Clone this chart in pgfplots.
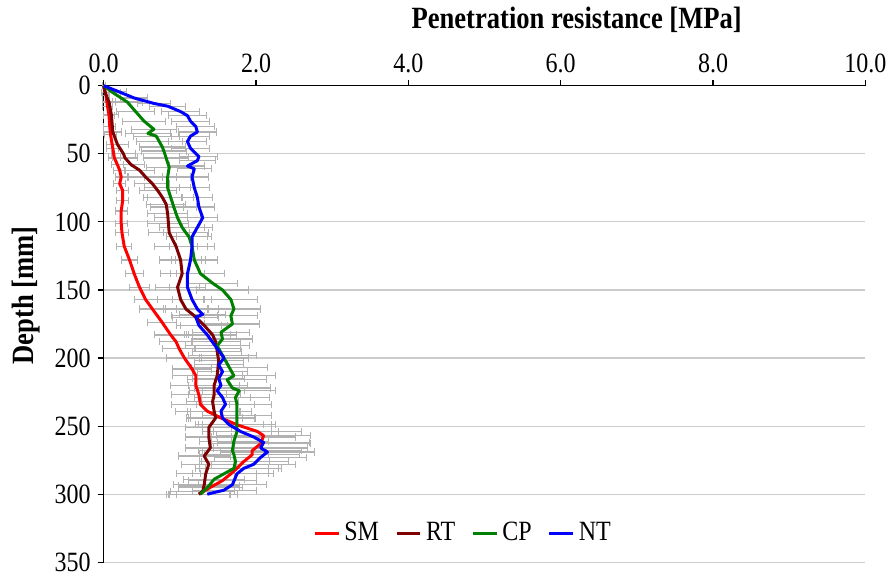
\documentclass[border=0pt]{standalone}
\usepackage{pgfplots}
\pgfplotsset{compat=1.18}
\usepackage{pgfplotstable}
\usepackage{fontspec}
\setmainfont{Liberation Serif}[FakeStretch=0.86]

\definecolor{cSM}{HTML}{FF0000}
\definecolor{cRT}{HTML}{7F0000}
\definecolor{cCP}{HTML}{008000}
\definecolor{cNT}{HTML}{0000FF}
\definecolor{errgray}{HTML}{B2B2B2}

% depth [mm], resistance [MPa], error [MPa]
\pgfplotstableread{
d x e
0 0.00 0.02
7 0.03 0.05
15 0.05 0.06
22 0.07 0.07
30 0.08 0.08
36 0.09 0.08
46 0.12 0.08
53 0.14 0.08
58 0.18 0.08
62 0.21 0.08
67 0.23 0.08
72 0.21 0.08
77 0.25 0.08
84 0.25 0.08
92 0.23 0.08
101 0.23 0.08
108 0.24 0.09
118 0.27 0.10
128 0.34 0.11
138 0.40 0.12
148 0.47 0.13
157 0.55 0.15
164 0.64 0.17
174 0.77 0.19
183 0.88 0.21
188 0.95 0.22
193 0.99 0.22
200 1.06 0.23
208 1.16 0.26
213 1.21 0.30
220 1.21 0.33
227 1.25 0.36
234 1.27 0.38
239 1.36 0.42
244 1.54 0.45
249 1.75 0.50
254 2.02 0.58
257 2.10 0.62
263 2.06 0.65
268 1.95 0.65
271 1.95 0.62
276 1.84 0.58
281 1.75 0.55
285 1.67 0.50
290 1.56 0.45
295 1.40 0.42
300 1.25 0.40
}\tSM

\pgfplotstableread{
d x e
0 0.00 0.02
5 0.02 0.05
12 0.07 0.08
21 0.10 0.10
34 0.12 0.12
43 0.18 0.14
50 0.26 0.16
53 0.28 0.17
58 0.36 0.18
62 0.47 0.20
67 0.55 0.22
72 0.64 0.23
77 0.71 0.24
82 0.77 0.25
87 0.82 0.26
94 0.84 0.26
101 0.85 0.27
108 0.86 0.27
118 0.95 0.28
128 1.01 0.28
138 1.03 0.29
148 0.97 0.29
157 1.01 0.30
164 1.08 0.30
169 1.19 0.30
176 1.32 0.31
183 1.43 0.31
188 1.47 0.32
195 1.49 0.32
202 1.51 0.32
213 1.49 0.33
220 1.45 0.33
227 1.45 0.34
232 1.43 0.34
239 1.45 0.35
244 1.47 0.35
251 1.38 0.30
258 1.38 0.30
266 1.40 0.32
272 1.32 0.34
278 1.38 0.36
285 1.34 0.38
293 1.32 0.40
298 1.30 0.42
300 1.25 0.42
}\tRT

\pgfplotstableread{
d x e
0 0.00 0.02
5 0.12 0.10
12 0.31 0.20
19 0.42 0.25
26 0.53 0.28
32 0.66 0.30
35 0.58 0.30
37 0.69 0.30
41 0.73 0.30
45 0.77 0.30
48 0.79 0.30
53 0.82 0.30
60 0.86 0.30
67 0.84 0.30
75 0.84 0.30
82 0.88 0.30
89 0.92 0.30
97 0.97 0.30
104 1.03 0.30
108 1.08 0.30
111 1.12 0.30
118 1.16 0.30
128 1.19 0.30
138 1.27 0.32
145 1.43 0.33
150 1.56 0.34
157 1.67 0.35
164 1.71 0.35
169 1.67 0.35
175 1.69 0.36
181 1.54 0.38
186 1.56 0.40
191 1.49 0.42
198 1.56 0.45
207 1.65 0.50
213 1.71 0.55
216 1.62 0.52
222 1.69 0.50
224 1.78 0.48
229 1.73 0.45
234 1.75 0.45
242 1.75 0.45
249 1.75 0.45
254 1.75 0.45
261 1.71 0.45
268 1.69 0.45
271 1.71 0.45
276 1.73 0.45
281 1.71 0.45
285 1.58 0.42
289 1.45 0.40
294 1.38 0.40
300 1.27 0.40
}\tCP

\pgfplotstableread{
d x e
0 0.00 0.02
4 0.18 0.12
9 0.40 0.18
13 0.66 0.22
15 0.84 0.24
19 1.01 0.25
22 1.10 0.25
26 1.14 0.25
30 1.21 0.25
34 1.23 0.25
37 1.14 0.25
41 1.10 0.25
46 1.14 0.25
52 1.25 0.25
55 1.23 0.24
59 1.10 0.23
61 1.19 0.22
67 1.16 0.21
75 1.19 0.20
82 1.23 0.20
89 1.25 0.20
97 1.30 0.20
104 1.23 0.20
111 1.16 0.20
118 1.16 0.20
128 1.14 0.20
138 1.10 0.22
148 1.10 0.24
157 1.16 0.26
164 1.23 0.28
168 1.30 0.30
170 1.21 0.30
176 1.25 0.30
183 1.36 0.30
193 1.49 0.30
200 1.58 0.32
205 1.51 0.32
210 1.56 0.33
215 1.51 0.34
220 1.54 0.35
224 1.49 0.36
229 1.56 0.37
234 1.60 0.38
239 1.54 0.40
244 1.56 0.42
249 1.65 0.45
254 1.80 0.50
258 1.97 0.55
262 2.10 0.60
266 2.06 0.62
269 2.15 0.62
273 2.06 0.60
278 1.97 0.55
281 1.84 0.50
285 1.75 0.48
293 1.69 0.45
297 1.58 0.42
300 1.36 0.40
}\tNT

\begin{document}
\begin{tikzpicture}
\pgfplotsset{
  errplot/.style={forget plot, draw=none, mark=none,
    error bars/.cd, x dir=both, x explicit, error mark=|,
    error bar style={draw=errgray, line width=0.6pt},
    error mark options={draw=errgray, mark size=1.8pt, line width=0.5pt}},
}
\begin{axis}[
  scale only axis,
  width=382pt, height=239pt,
  xmin=0, xmax=10, ymin=0, ymax=350,
  y dir=reverse,
  axis x line*=top, axis y line*=left,
  axis line style={black, line width=0.6pt},
  xtick={0,2,...,10}, ytick={0,50,...,350},
  tick align=outside, major tick length=3pt,
  tick style={black, line width=0.6pt},
  ymajorgrids, grid style={draw=black!20, line width=0.6pt},
  /pgf/number format/assume math mode=true,
  xticklabel style={/pgf/number format/.cd, fixed, fixed zerofill, precision=1},
  ticklabel style={font=\fontsize{14}{16}\selectfont},
  xlabel={Penetration resistance [MPa]},
  ylabel={Depth [mm]},
  every axis x label/.style={at={(axis description cs:0.621,1)}, anchor=center, yshift=33pt, font=\fontsize{15.5}{17}\selectfont\bfseries},
  every axis y label/.style={at={(axis description cs:0,0.56)}, anchor=center, xshift=-39pt, rotate=90, font=\fontsize{15.5}{17}\selectfont\bfseries},
  legend style={at={(axis description cs:0.473,0.061)}, anchor=center, draw=none, fill=none,
    font=\fontsize{14}{16}\selectfont, legend columns=4,
    /tikz/every even column/.append style={column sep=6pt}},
  legend image code/.code={\draw[#1, line width=1.6pt] (0pt,0pt) -- (12pt,0pt);},
  clip=false,
]
\addplot[errplot] table[x=x, y=d, x error=e] {\tSM};
\addplot[errplot] table[x=x, y=d, x error=e] {\tRT};
\addplot[errplot] table[x=x, y=d, x error=e] {\tCP};
\addplot[errplot] table[x=x, y=d, x error=e] {\tNT};

\addplot[cSM, line width=1.5pt, line join=round] table[x=x, y=d] {\tSM};
\addplot[cRT, line width=1.5pt, line join=round] table[x=x, y=d] {\tRT};
\addplot[cCP, line width=1.5pt, line join=round] table[x=x, y=d] {\tCP};
\addplot[cNT, line width=1.5pt, line join=round] table[x=x, y=d] {\tNT};
\legend{SM, RT, CP, NT}

\path (rel axis cs:0,0) ++(-52pt,-5pt) (rel axis cs:1,1) ++(13.5pt,43pt);
\end{axis}
\end{tikzpicture}
\end{document}
